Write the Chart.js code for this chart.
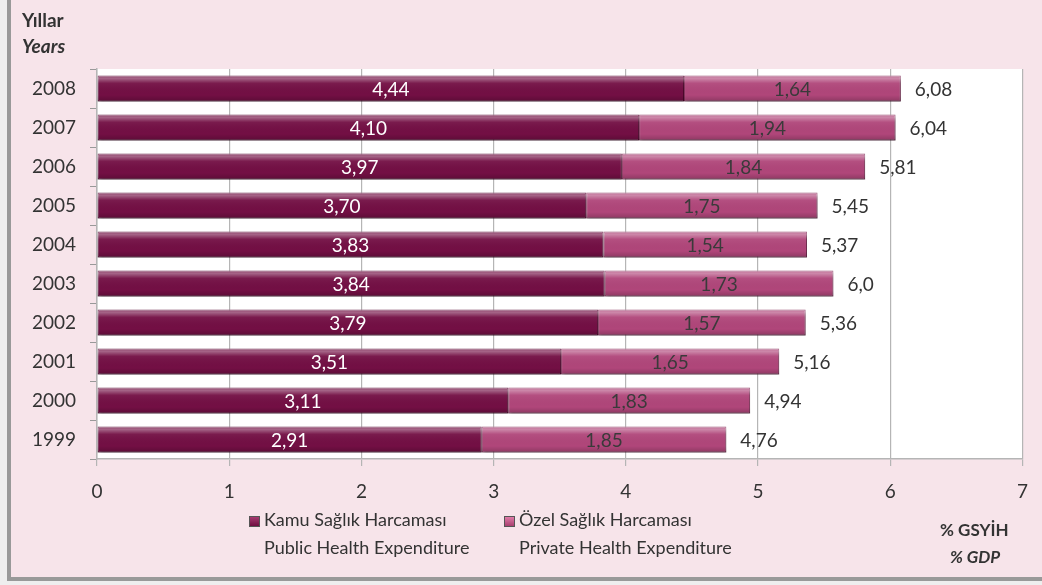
<!DOCTYPE html>
<html><head><meta charset="utf-8">
<script src="https://cdn.jsdelivr.net/npm/chart.js@4.4.1/dist/chart.umd.min.js"></script>
<style>
html,body{margin:0;padding:0;}
body{width:1042px;height:585px;position:relative;overflow:hidden;background:#eeeeee;font-family:Lato,"Open Sans",sans-serif;color:#333;}
#frame{position:absolute;left:7px;top:0;width:1035px;height:581px;background:#f7e4ea;border-left:4px solid #999;border-bottom:4px solid #999;box-sizing:border-box;}
#wrap{position:absolute;left:0;top:0;width:1042px;height:585px;}
.t{position:absolute;white-space:nowrap;font-size:18px;}
.sq{position:absolute;width:11px;height:11px;border:1px solid #555;box-sizing:border-box;}
</style></head>
<body>
<div id="frame"></div>
<div id="wrap"><canvas id="c" width="1042" height="585"></canvas></div>
<div class="t" style="left:22px;top:8px;font-weight:bold;font-size:19px;">Yıllar</div>
<div class="t" style="left:22px;top:34px;font-weight:bold;font-style:italic;font-size:19px;">Years</div>
<div class="sq" style="left:249px;top:516px;background:linear-gradient(#a63a70,#6e0e40);"></div>
<div class="t" style="left:264px;top:508px;">Kamu Sağlık Harcaması</div>
<div class="t" style="left:264px;top:536px;">Public Health Expenditure</div>
<div class="sq" style="left:504px;top:516px;background:linear-gradient(#e07aa8,#a8406f);"></div>
<div class="t" style="left:519px;top:508px;">Özel Sağlık Harcaması</div>
<div class="t" style="left:519px;top:536px;">Private Health Expenditure</div>
<div class="t" style="left:940px;top:519px;font-weight:bold;font-size:17px;">% GSYİH</div>
<div class="t" style="left:950px;top:546px;font-weight:bold;font-style:italic;font-size:17px;">% GDP</div>
<script>
const years = ["2008","2007","2006","2005","2004","2003","2002","2001","2000","1999"];
const publicSpending = [4.44,4.10,3.97,3.70,3.83,3.84,3.79,3.51,3.11,2.91];
const privateSpending = [1.64,1.94,1.84,1.75,1.54,1.73,1.57,1.65,1.83,1.85];
const totalLabels = ["6,08","6,04","5,81","5,45","5,37","6,0","5,36","5,16","4,94","4,76"];
const xTicks = [0,1,2,3,4,5,6,7];
const seriesNames = ["Kamu Sağlık Harcaması","Özel Sağlık Harcaması"];

const fmt = v => v.toFixed(2).replace('.', ',');

const barStyle = {
  id:'barStyle',
  beforeDatasetDraw(chart, args){
    const ctx = chart.ctx;
    ctx.save();
    ctx.shadowColor='rgba(0,0,0,0.35)';
    ctx.shadowOffsetY=3;
    ctx.shadowOffsetX=1;
    ctx.shadowBlur=3;
  },
  afterDatasetDraw(chart, args){
    const ctx = chart.ctx;
    ctx.restore();
    const meta = args.meta;
    ctx.save();
    meta.data.forEach(el=>{
      const {x, y, base, height} = el.getProps(['x','y','base','height'], true);
      const left = Math.min(x, base), w = Math.abs(x-base);
      const top = y-height/2;
      const g = ctx.createLinearGradient(0, top, 0, top+height);
      g.addColorStop(0,'rgba(255,255,255,0.25)');
      g.addColorStop(0.12,'rgba(255,255,255,0.35)');
      g.addColorStop(0.3,'rgba(255,255,255,0.05)');
      g.addColorStop(0.75,'rgba(0,0,0,0.0)');
      g.addColorStop(1,'rgba(0,0,0,0.2)');
      ctx.fillStyle=g;
      ctx.fillRect(left, top, w, height);
    });
    ctx.restore();
  }
};

const labelsPlugin = {
  id:'valueLabels',
  afterDatasetsDraw(chart){
    const ctx = chart.ctx;
    ctx.save();
    ctx.font = '19px Lato, "Open Sans", sans-serif';
    ctx.textBaseline='middle';
    const m0 = chart.getDatasetMeta(0), m1 = chart.getDatasetMeta(1);
    m0.data.forEach((el,i)=>{
      const p = el.getProps(['x','y','base'], true);
      ctx.fillStyle='#ffffff'; ctx.textAlign='center';
      ctx.fillText(fmt(publicSpending[i]), (p.x+p.base)/2, p.y+1);
    });
    m1.data.forEach((el,i)=>{
      const p = el.getProps(['x','y','base'], true);
      ctx.fillStyle='#3a3a3a'; ctx.textAlign='center';
      ctx.fillText(fmt(privateSpending[i]), (p.x+p.base)/2, p.y+1);
      ctx.fillStyle='#333333'; ctx.textAlign='left';
      ctx.fillText(totalLabels[i], p.x+14, p.y+1);
    });
    ctx.restore();
  }
};

new Chart(document.getElementById('c'), {
  type:'bar',
  data:{
    labels: years,
    datasets:[
      {label:seriesNames[0], data:publicSpending, backgroundColor:'#730f44', borderColor:'#5a0a34', borderWidth:1, borderSkipped:false},
      {label:seriesNames[1], data:privateSpending, backgroundColor:'#b0467a', borderColor:'#8a3560', borderWidth:1, borderSkipped:false}
    ]
  },
  options:{
    indexAxis:'y',
    responsive:false,
    animation:false,
    devicePixelRatio:1,
    layout:{padding:{left:0,right:19,top:69,bottom:0}},
    plugins:{legend:{display:false}, tooltip:{enabled:false}},
    datasets:{bar:{categoryPercentage:0.8, barPercentage:0.84}},
    scales:{
      x:{
        stacked:true, min:0, max:7,
        afterBuildTicks(s){ s.ticks = xTicks.map(v=>({value:v})); },
        afterFit(s){ s.height = 126; },
        grid:{color:'#b5b5b5', lineWidth:1.2, tickLength:7, drawTicks:true},
        border:{color:'#b5b5b5', width:1.5},
        ticks:{color:'#333', font:{family:'Lato', size:19}, padding:14}
      },
      y:{
        stacked:true,
        afterFit(s){ s.width = 97; },
        grid:{display:true, drawOnChartArea:false, drawTicks:true, tickLength:7, color:'#999', offset:true},
        border:{color:'#b5b5b5', width:1.5},
        ticks:{color:'#333', font:{family:'Lato', size:19}, padding:14}
      }
    }
  },
  plugins:[{
    id:'plotBg',
    beforeDraw(chart){
      const a = chart.chartArea, ctx = chart.ctx;
      ctx.save(); ctx.fillStyle='#ffffff';
      ctx.fillRect(a.left, a.top, a.right-a.left, a.bottom-a.top);
      ctx.restore();
    }
  }, barStyle, labelsPlugin]
});
</script>
</body></html>
